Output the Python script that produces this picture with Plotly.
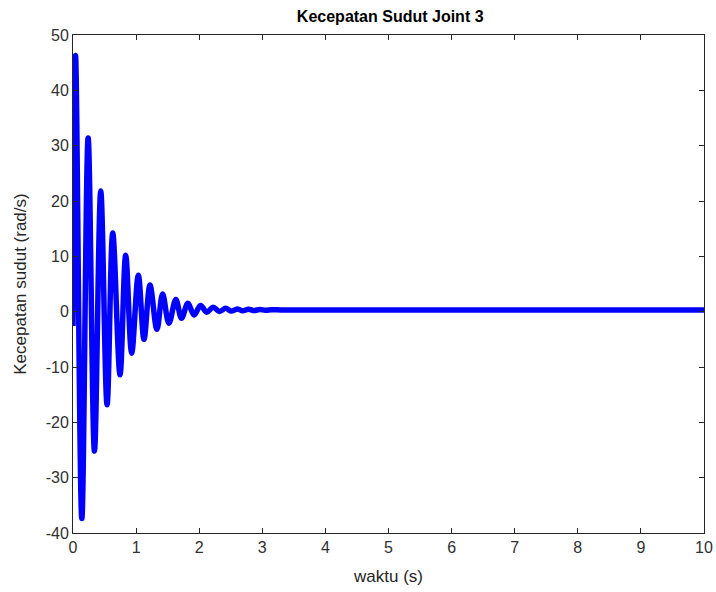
import plotly.graph_objects as go

# Angular velocity of joint 3: start value, successive extrema, then settled value
waktu = [0.00, 0.04, 0.14, 0.24, 0.34, 0.44, 0.54, 0.63, 0.745, 0.835, 0.93,
         1.035, 1.125, 1.22, 1.33, 1.42, 1.52, 1.63, 1.72, 1.82, 1.92, 2.02,
         2.12, 2.22, 2.32, 2.42, 2.51, 2.60, 2.69, 2.78, 2.87, 2.96, 3.05,
         3.15, 3.3, 3.6, 4.5, 6.0, 8.0, 10.0]
kecepatan = [-2.6, 46.3, -37.4, 31.4, -25.2, 21.8, -16.8, 14.2, -11.4, 10.2, -7.5,
             6.6, -5.0, 4.8, -3.2, 3.2, -2.1, 2.2, -1.2, 1.5, -0.6, 1.1,
             -0.1, 0.8, 0.05, 0.6, 0.1, 0.5, 0.15, 0.45, 0.2, 0.4, 0.25,
             0.35, 0.3, 0.3, 0.3, 0.3, 0.3, 0.3]

x_ticks = list(range(0, 11))
y_ticks = list(range(-40, 51, 10))
y_labels = [str(v) for v in y_ticks]  # plain hyphen minus signs

fig = go.Figure()
fig.add_trace(go.Scatter(
    x=waktu, y=kecepatan, mode="lines",
    line=dict(color="#0000ff", width=5.5, shape="spline", smoothing=1.0),
    showlegend=False, hoverinfo="skip",
))

axis_common = dict(
    showgrid=False, zeroline=False, showline=True, linecolor="#262626",
    linewidth=1, mirror="ticks", ticks="inside", ticklen=5, tickwidth=1,
    tickcolor="#262626", automargin=False,
    tickfont=dict(family="Liberation Sans, Arial", size=16, color="#303030"),
)

fig.update_layout(
    width=716, height=592,
    margin=dict(l=73, r=12, t=35, b=59),
    paper_bgcolor="white", plot_bgcolor="white",
    title=dict(text="<b>Kecepatan Sudut Joint 3</b>", x=0.545, xanchor="center",
               y=0.972, yanchor="middle",
               font=dict(family="Liberation Sans, Arial", size=16, color="#000000")),
    xaxis=dict(range=[0, 10], tickvals=x_ticks,
               title=dict(text="waktu (s)", standoff=14,
                          font=dict(family="Liberation Sans, Arial", size=17, color="#262626")),
               **axis_common),
    yaxis=dict(range=[-40, 50], tickvals=y_ticks, ticktext=y_labels,
               title=dict(text="Kecepatan sudut (rad/s)", standoff=14,
                          font=dict(family="Liberation Sans, Arial", size=17, color="#262626")),
               **axis_common),
)

fig.write_html("out.html")
